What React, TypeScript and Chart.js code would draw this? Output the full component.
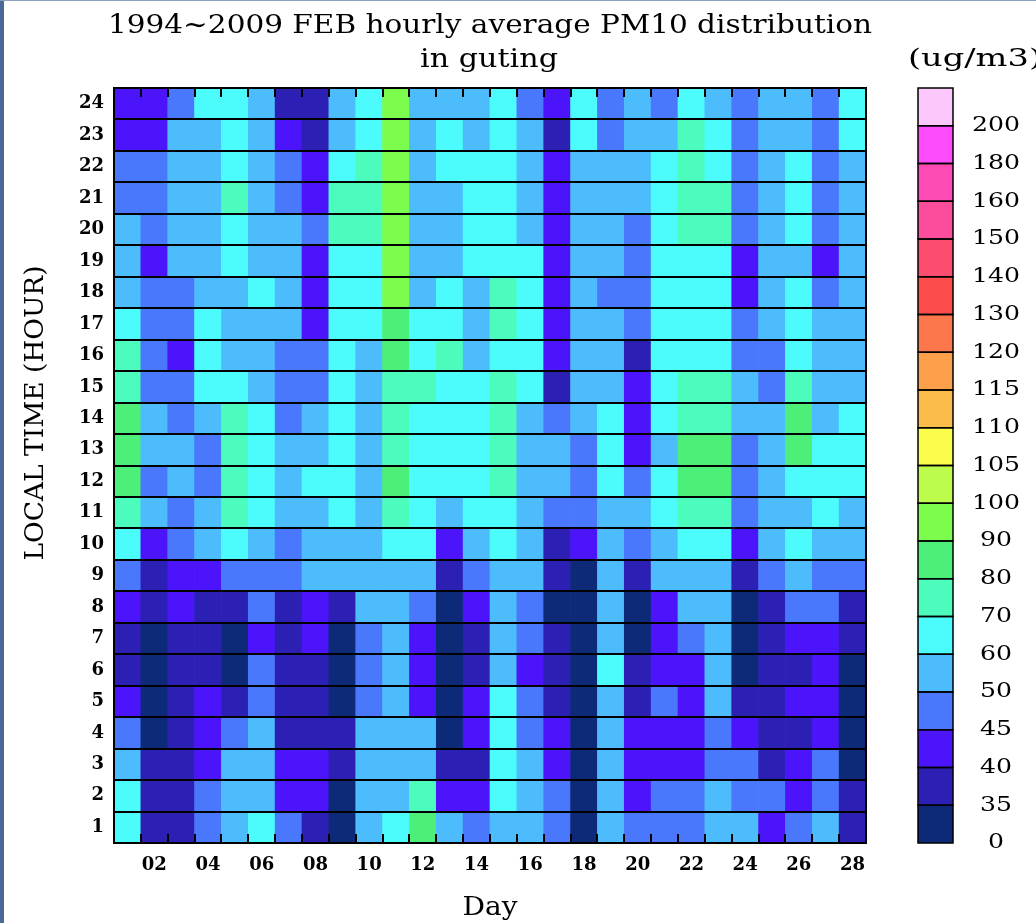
import React, { useEffect, useRef } from "react";
import { Chart, registerables } from "chart.js";

Chart.register(...registerables);

// ---------- data ----------
const dayLabels = ["01","02","03","04","05","06","07","08","09","10","11","12","13","14","15","16","17","18","19","20","21","22","23","24","25","26","27","28"];
const xTickLabels = ["","02","","04","","06","","08","","10","","12","","14","","16","","18","","20","","22","","24","","26","","28"];
const hourLabels = ["1","2","3","4","5","6","7","8","9","10","11","12","13","14","15","16","17","18","19","20","21","22","23","24"];

// colour scale (ug/m3): lower bound of each class
const levelBounds = [0, 35, 40, 45, 50, 60, 70, 80, 90, 100, 105, 110, 115, 120, 130, 140, 150, 160, 180, 200];
const levelLabels = ["0","35","40","45","50","60","70","80","90","100","105","110","115","120","130","140","150","160","180","200"];
const levelColors = [
  "#0c2a78", "#2c20b4", "#4c14fa", "#4a78fc", "#4cbcfc", "#4cfcfc", "#4cfcbc", "#4cf078",
  "#7cfc4c", "#bcfc4c", "#fcfc4c", "#fcbc4c", "#fca04c", "#fc784c", "#fc4c4c", "#fc4c70",
  "#fc4c9c", "#fc4cb4", "#fc4cfc", "#fcc8fc",
];

// hourly average PM10, rows = hour 1..24, columns = day 1..28
const pm10: number[][] = [
  [65,38,38,48,55,65,48, 38,32,55,65,85,55,48, 55,55,48,32,55,48,48, 48,55,55,43,48,55,38],
  [65,38,38,48,55,55,43, 43,32,55,55,75,43,43, 65,55,48,32,55,43,48, 48,55,48,48,43,48,38],
  [55,38,38,43,55,55,43, 43,38,55,55,55,38,38, 65,55,43,32,55,43,43, 43,48,48,38,43,48,32],
  [48,32,38,43,48,55,38, 38,38,55,55,55,32,43, 65,48,43,32,55,43,43, 43,48,43,38,38,43,32],
  [43,32,38,43,38,48,38, 38,32,48,55,43,32,43, 65,48,38,32,55,38,48, 43,55,38,38,43,43,32],
  [38,32,38,38,32,48,38, 38,32,48,55,43,32,38, 55,43,38,32,65,38,43, 43,55,32,38,38,43,32],
  [38,32,38,38,32,43,38, 43,32,48,55,43,32,38, 55,48,38,32,55,32,43, 48,55,32,38,43,43,38],
  [43,38,43,38,38,48,38, 43,38,55,55,48,32,43, 55,48,32,32,55,32,43, 55,55,32,38,48,48,38],
  [48,38,43,43,48,48,48, 55,55,55,55,55,38,48, 55,55,38,32,55,38,55, 55,55,38,48,55,48,48],
  [65,43,48,55,65,55,48, 55,55,55,65,65,43,55, 65,55,38,43,55,48,55, 65,65,43,55,65,55,55],
  [75,55,48,55,75,65,55, 55,65,55,75,65,55,65, 65,55,48,48,55,55,65, 75,75,48,55,55,65,55],
  [85,48,55,48,75,65,55, 65,65,55,85,65,65,65, 75,55,55,48,65,48,65, 85,85,48,55,65,65,65],
  [85,55,55,48,75,65,55, 55,65,55,75,65,65,65, 75,55,55,48,65,43,55, 85,85,48,55,85,65,65],
  [85,55,48,55,75,65,48, 55,65,55,75,65,65,65, 75,55,48,55,65,43,65, 75,75,55,55,85,55,65],
  [75,48,48,65,65,55,48, 48,65,55,75,75,65,65, 75,65,38,55,55,43,65, 75,75,55,48,75,55,55],
  [75,48,43,65,55,55,48, 48,65,55,85,65,75,55, 65,65,43,55,55,38,65, 65,65,48,48,65,55,55],
  [65,48,48,65,55,55,55, 43,65,65,85,65,65,55, 75,65,43,55,55,48,65, 65,65,48,55,65,55,55],
  [55,48,48,55,55,65,55, 43,65,65,95,55,65,55, 75,65,43,55,48,48,65, 65,65,43,55,65,48,55],
  [55,43,55,55,65,55,55, 43,65,65,95,55,55,65, 65,65,43,55,55,48,65, 65,65,43,55,55,43,55],
  [55,48,55,55,65,55,55, 48,75,75,95,55,55,65, 65,55,43,55,55,48,65, 75,75,48,55,65,48,55],
  [48,48,55,55,75,55,48, 43,75,75,95,55,55,65, 65,55,43,55,55,55,65, 75,75,48,55,65,48,55],
  [48,48,55,55,65,55,48, 43,65,75,95,55,65,65, 65,55,43,55,55,55,65, 75,65,48,55,65,48,55],
  [43,43,55,55,65,55,43, 38,55,65,95,55,65,55, 65,55,38,65,48,55,55, 75,65,48,55,55,48,65],
  [43,43,48,65,65,55,38, 38,55,65,95,55,55,55, 65,48,43,65,48,55,48, 65,55,48,55,55,48,65],
];

const titleLine1 = "1994~2009 FEB hourly average PM10 distribution";
const titleLine2 = "in guting";
const yTitle = "LOCAL TIME (HOUR)";
const xTitle = "Day";
const unitLabel = "(ug/m3)";

// ---------- helpers ----------
function colorFor(v: number): string {
  let idx = 0;
  for (let i = 0; i < levelBounds.length; i++) if (v >= levelBounds[i]) idx = i;
  return levelColors[idx];
}

const SERIF = "'DejaVu Serif', serif";

function stretchText(ctx: CanvasRenderingContext2D, text: string, cx: number, cy: number, font: string, targetWidth: number, rotate = false) {
  ctx.save();
  ctx.font = font;
  const w = ctx.measureText(text).width;
  ctx.translate(cx, cy);
  if (rotate) ctx.rotate(-Math.PI / 2);
  ctx.scale(targetWidth / w, 1);
  ctx.textAlign = "center";
  ctx.textBaseline = "middle";
  ctx.fillStyle = "#000";
  ctx.fillText(text, 0, 0);
  ctx.restore();
}

const decorPlugin = {
  id: "decor",
  afterDraw(chart: any) {
    const ctx: CanvasRenderingContext2D = chart.ctx;
    const { left, right, top, bottom } = chart.chartArea;
    const xs = chart.scales.x;
    const ys = chart.scales.y;

    ctx.save();
    ctx.strokeStyle = "#000";
    // row separators
    ctx.lineWidth = 2;
    ctx.beginPath();
    for (let k = 1; k < hourLabels.length; k++) {
      const py = Math.round(ys.getPixelForValue(k));
      ctx.moveTo(left, py);
      ctx.lineTo(right, py);
    }
    ctx.stroke();

    // frame
    ctx.lineWidth = 2;
    ctx.strokeRect(left, top, right - left, bottom - top);

    // inward tick marks at column boundaries (top and bottom)
    ctx.beginPath();
    for (let i = 1; i < dayLabels.length; i++) {
      const bx = Math.round((xs.getPixelForValue(i - 1) + xs.getPixelForValue(i)) / 2);
      ctx.moveTo(bx, top);
      ctx.lineTo(bx, top + 9);
      ctx.moveTo(bx, bottom);
      ctx.lineTo(bx, bottom - 9);
    }
    ctx.stroke();
    ctx.restore();

    // titles
    stretchText(ctx, titleLine1, 490, 26, `26px ${SERIF}`, 764);
    stretchText(ctx, titleLine2, 489, 60, `26px ${SERIF}`, 138);
    stretchText(ctx, yTitle, 36, 413, `26px ${SERIF}`, 295, true);
    stretchText(ctx, xTitle, 490, 908, `26px ${SERIF}`, 55);

    // colour bar
    const cbL = 918, cbR = 953, cbT = top, cbB = bottom;
    const n = levelColors.length;
    const h = (cbB - cbT) / n;
    ctx.save();
    for (let i = 0; i < n; i++) {
      const y1 = cbB - (i + 1) * h;
      ctx.fillStyle = levelColors[i];
      ctx.fillRect(cbL, y1, cbR - cbL, h);
    }
    ctx.strokeStyle = "#000";
    ctx.lineWidth = 1.5;
    for (let i = 0; i < n; i++) {
      const y1 = cbB - (i + 1) * h;
      ctx.strokeRect(cbL, y1, cbR - cbL, h);
    }
    ctx.restore();

    for (let i = 0; i < levelLabels.length; i++) {
      const t = levelLabels[i];
      const y = cbB - i * h;
      stretchText(ctx, t, 996, y, `21px ${SERIF}`, t.length * 16);
    }
    ctx.save();
    ctx.font = `24px ${SERIF}`;
    const uw = ctx.measureText(unitLabel).width;
    ctx.translate(908, 60);
    ctx.scale(134 / uw, 1);
    ctx.textAlign = "left";
    ctx.textBaseline = "middle";
    ctx.fillStyle = "#000";
    ctx.fillText(unitLabel, 0, 0);
    ctx.restore();

    // page border
    ctx.save();
    ctx.fillStyle = "#4a6898";
    ctx.fillRect(0, 0, 4, chart.height);
    ctx.fillStyle = "#8aa0c0";
    ctx.fillRect(0, 0, chart.width, 1);
    ctx.restore();
  },
};

export default function App() {
  const ref = useRef<HTMLCanvasElement | null>(null);

  useEffect(() => {
    if (!ref.current) return;
    const datasets = hourLabels.map((hl, hi) => ({
      label: hl,
      data: dayLabels.map(() => 1),
      backgroundColor: pm10[hi].map(colorFor),
      borderWidth: 0,
      barPercentage: 1,
      categoryPercentage: 1,
      stack: "hm",
    }));

    const tickFont = { family: SERIF, size: 18, weight: "bold" as any };

    const chart = new Chart(ref.current, {
      type: "bar",
      data: { labels: dayLabels, datasets },
      options: {
        responsive: false,
        animation: false,
        maintainAspectRatio: false,
        layout: { padding: { top: 88, right: 170, left: 0, bottom: 0 } },
        plugins: {
          legend: { display: false },
          tooltip: { enabled: false },
          title: { display: false },
        },
        scales: {
          x: {
            type: "category",
            stacked: true,
            offset: true,
            grid: { display: false, drawTicks: false },
            border: { display: false },
            ticks: {
              autoSkip: false,
              maxRotation: 0,
              minRotation: 0,
              color: "#000",
              padding: 12,
              font: tickFont,
              callback: (_v: any, i: number) => xTickLabels[i],
            },
            afterFit: (s: any) => { s.height = 923 - 843; },
          },
          y: {
            type: "linear",
            stacked: true,
            min: 0,
            max: 24,
            grid: { display: false, drawTicks: false },
            border: { display: false },
            afterBuildTicks: (s: any) => { s.ticks = hourLabels.map((_, i) => ({ value: i + 0.5 })); },
            ticks: {
              color: "#000",
              padding: 10,
              font: tickFont,
              callback: (_v: any, i: number) => hourLabels[i],
            },
            afterFit: (s: any) => { s.width = 114; },
          },
        },
      },
      plugins: [decorPlugin],
    });
    return () => chart.destroy();
  }, []);

  return (
    <div style={{ position: "absolute", left: 0, top: 0, width: 1036, height: 923, background: "#fff" }}>
      <canvas ref={ref} width={1036} height={923} style={{ width: 1036, height: 923, display: "block" }} />
    </div>
  );
}
